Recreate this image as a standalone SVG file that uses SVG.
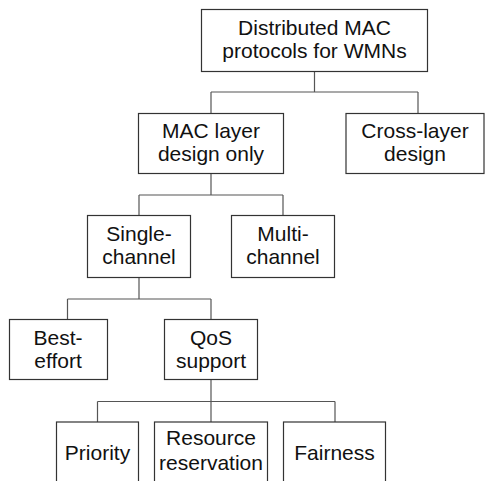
<svg xmlns="http://www.w3.org/2000/svg" width="485" height="481" viewBox="0 0 485 481">
<style>
.box{fill:#fff;stroke:#333;stroke-width:1.2}
.lbl{font-family:"Liberation Sans",Arial,sans-serif;font-size:21px;fill:#111;text-anchor:middle}
.con{fill:none;stroke:#555;stroke-width:1.2}
</style>
<rect width="485" height="481" fill="#fff"/>
<g id="connectors">
<path class="con" d="M314.5 71V92M211 92H418M211 92V113M418 92V113"/>
<path class="con" d="M211 174V195M139 195H283M139 195V215M283 195V215"/>
<path class="con" d="M139 278V299M67.5 299H211M67.5 299V319M211 299V319"/>
<path class="con" d="M211 380V401.5M97.5 401.5H335M97.5 401.5V422M211 401.5V422M335 401.5V422"/>
</g>
<g id="root"><rect class="box" x="201.5" y="9.5" width="226" height="62"/><text class="lbl" x="314.5" y="35">Distributed MAC</text><text class="lbl" x="314.5" y="58">protocols for WMNs</text></g>
<g id="mac"><rect class="box" x="138.5" y="113.5" width="145" height="60"/><text class="lbl" x="211" y="138">MAC layer</text><text class="lbl" x="211" y="161">design only</text></g>
<g id="cross"><rect class="box" x="346" y="113.5" width="138" height="60"/><text class="lbl" x="415" y="138">Cross-layer</text><text class="lbl" x="415" y="161">design</text></g>
<g id="single"><rect class="box" x="87.5" y="215.5" width="103" height="62"/><text class="lbl" x="139" y="241">Single-</text><text class="lbl" x="139" y="264">channel</text></g>
<g id="multi"><rect class="box" x="231.5" y="215.5" width="103" height="62"/><text class="lbl" x="283" y="241">Multi-</text><text class="lbl" x="283" y="264">channel</text></g>
<g id="best"><rect class="box" x="9.5" y="319.5" width="98" height="60"/><text class="lbl" x="58" y="345">Best-</text><text class="lbl" x="58" y="368">effort</text></g>
<g id="qos"><rect class="box" x="164.5" y="319.5" width="93" height="60"/><text class="lbl" x="211" y="345">QoS</text><text class="lbl" x="211" y="368">support</text></g>
<g id="priority"><rect class="box" x="56.5" y="422" width="82" height="70"/><text class="lbl" x="97.5" y="460">Priority</text></g>
<g id="resource"><rect class="box" x="154.5" y="422" width="113" height="70"/><text class="lbl" x="211" y="445">Resource</text><text class="lbl" x="211" y="470">reservation</text></g>
<g id="fairness"><rect class="box" x="283.5" y="422" width="102" height="70"/><text class="lbl" x="334.5" y="460">Fairness</text></g>
</svg>
